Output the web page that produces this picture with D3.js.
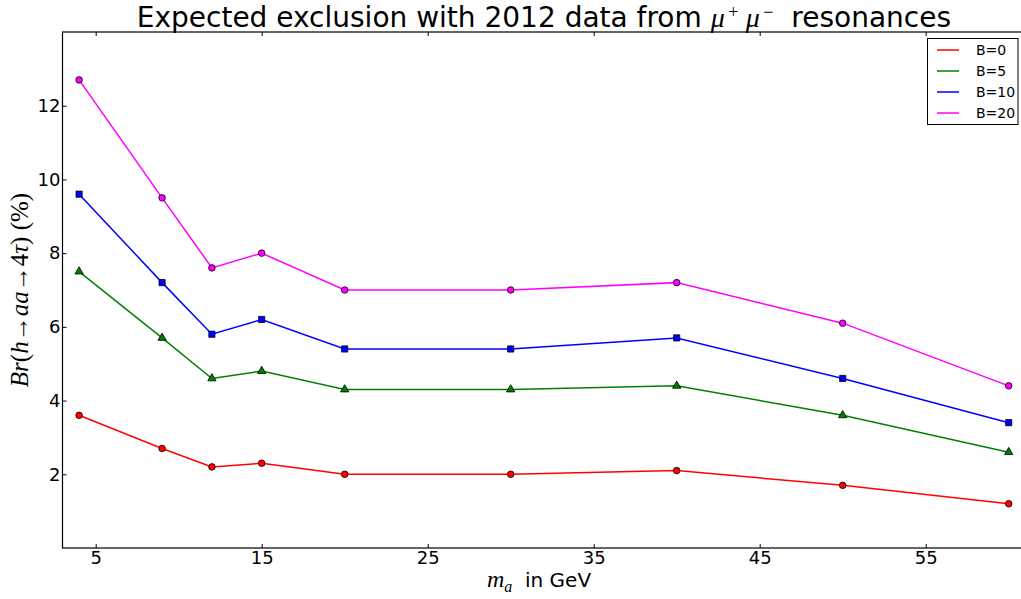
<!DOCTYPE html>
<html><head><meta charset="utf-8">
<script src="https://cdn.jsdelivr.net/npm/d3@7"></script>
<style>
body{margin:0;background:#fff;}
svg{display:block;}
</style></head>
<body>
<svg id="chart" width="1021" height="599" font-family="DejaVu Sans"></svg>
<script>
const massValues = [4, 9, 12, 15, 20, 30, 40, 50, 60];
const seriesNames = ["B=0", "B=5", "B=10", "B=20"];
const seriesB0 = [3.6, 2.7, 2.2, 2.3, 2.0, 2.0, 2.1, 1.7, 1.2];
const seriesB5 = [7.5, 5.7, 4.6, 4.8, 4.3, 4.3, 4.4, 3.6, 2.6];
const seriesB10 = [9.6, 7.2, 5.8, 6.2, 5.4, 5.4, 5.7, 4.6, 3.4];
const seriesB20 = [12.7, 9.5, 7.6, 8.0, 7.0, 7.0, 7.2, 6.1, 4.4];
const xTickValues = [5, 15, 25, 35, 45, 55];
const yTickValues = [2, 4, 6, 8, 10, 12];

const colors = ["#ff0000", "#008000", "#0000ff", "#ff00ff"];
const symbols = [d3.symbolCircle, d3.symbolTriangle, d3.symbolSquare, d3.symbolCircle];
const symSizes = [34, 30, 38, 34];
const seriesValues = [seriesB0, seriesB5, seriesB10, seriesB20];

const svg = d3.select("#chart");
const mLeft = 62.5, mRight = 1025.3, mTop = 32, mBottom = 548;
const x = d3.scaleLinear().domain([3, 61]).range([mLeft, mRight]);
const y = d3.scaleLinear().domain([0, 14]).range([mBottom, mTop]);

// axes
const gx = svg.append("g").attr("transform", `translate(0,${mBottom})`)
  .call(d3.axisBottom(x).tickValues(xTickValues).tickSize(-4).tickSizeOuter(0).tickPadding(3).tickFormat(d3.format("d")));
const gxt = svg.append("g").attr("transform", `translate(0,${mTop})`)
  .call(d3.axisTop(x).tickValues(xTickValues).tickSize(-4).tickSizeOuter(0).tickFormat(""));
const gy = svg.append("g").attr("transform", `translate(${mLeft},0)`)
  .call(d3.axisLeft(y).tickValues(yTickValues).tickSize(-4).tickSizeOuter(0).tickPadding(2).tickFormat(d3.format("d")));
const gyr = svg.append("g").attr("transform", `translate(${mRight},0)`)
  .call(d3.axisRight(y).tickValues(yTickValues).tickSize(-4).tickSizeOuter(0).tickFormat(""));
[gx, gxt, gy, gyr].forEach(g => {
  g.select(".domain").remove();
  g.attr("font-family", "DejaVu Sans").attr("font-size", 18);
  g.selectAll("line").attr("stroke", "#000").attr("stroke-width", 1);
  g.selectAll("text").attr("fill", "#000");
});

// frame
svg.append("rect").attr("x", mLeft).attr("y", mTop).attr("width", mRight - mLeft).attr("height", mBottom - mTop)
  .attr("fill", "none").attr("stroke", "#000").attr("stroke-width", 1.2);

// lines
const line = d3.line().x((d, i) => x(massValues[i])).y(d => y(d));
seriesValues.forEach((vals, si) => {
  svg.append("path").datum(vals).attr("d", line)
    .attr("fill", "none").attr("stroke", colors[si]).attr("stroke-width", 1.5);
});
seriesValues.forEach((vals, si) => {
  svg.append("g").selectAll("path").data(vals).join("path")
    .attr("transform", (d, i) => `translate(${x(massValues[i])},${y(d)})`)
    .attr("d", d3.symbol().type(symbols[si]).size(symSizes[si]))
    .attr("fill", colors[si]).attr("stroke", "#000").attr("stroke-width", 0.8);
});

// title
const title = svg.append("text").attr("x", (mLeft + mRight) / 2).attr("y", 27)
  .attr("text-anchor", "middle").attr("font-family", "DejaVu Sans").attr("font-size", 28).attr("fill", "#000");
title.append("tspan").text("Expected exclusion with 2012 data from ");
title.append("tspan").attr("font-family", "Liberation Serif").attr("font-style", "italic").text("μ");
title.append("tspan").attr("font-family", "Liberation Serif").attr("font-size", 18).attr("dy", -9).text("\u2009+\u2009\u2009");
title.append("tspan").attr("font-family", "Liberation Serif").attr("font-style", "italic").attr("dy", 9).text("μ");
title.append("tspan").attr("font-family", "Liberation Serif").attr("font-size", 18).attr("dy", -9).text("\u2009−");
title.append("tspan").attr("dy", 9).text("\u00a0\u00a0resonances");

// x label (math part and text part)
const xlm = svg.append("text").attr("x", 487).attr("y", 587)
  .attr("font-family", "Liberation Serif").attr("font-style", "italic").attr("font-size", 24).attr("fill", "#000");
xlm.append("tspan").text("m");
xlm.append("tspan").attr("font-size", 16).attr("dy", 5).text("a");
svg.append("text").attr("x", 525).attr("y", 587)
  .attr("font-family", "DejaVu Sans").attr("font-size", 20).attr("fill", "#000").text("in GeV");

// y label
const yl = svg.append("text").attr("transform", `translate(28,${(mTop + mBottom) / 2}) rotate(-90)`)
  .attr("text-anchor", "middle").attr("font-family", "Liberation Serif").attr("font-size", 25).attr("fill", "#000");
const ylParts = [["Br", true], ["(", false], ["h", true], ["→", false], ["aa", true], ["→", false], ["4", false], ["τ", true], [")", false], ["\u00a0(%)", false]];
ylParts.forEach(([t, it]) => yl.append("tspan").attr("font-style", it ? "italic" : "normal").text(t));

// legend
const lg = svg.append("g");
lg.append("rect").attr("x", 927.5).attr("y", 38.5).attr("width", 90.5).attr("height", 86)
  .attr("fill", "#fff").attr("stroke", "#000").attr("stroke-width", 1);
seriesNames.forEach((name, i) => {
  const yy = 50 + i * 21;
  lg.append("line").attr("x1", 937).attr("x2", 959).attr("y1", yy).attr("y2", yy)
    .attr("stroke", colors[i]).attr("stroke-width", 1.5);
  lg.append("text").attr("x", 976).attr("y", yy + 5).attr("font-family", "DejaVu Sans").attr("font-size", 14).attr("fill", "#000").text(name);
});
</script>
</body></html>
